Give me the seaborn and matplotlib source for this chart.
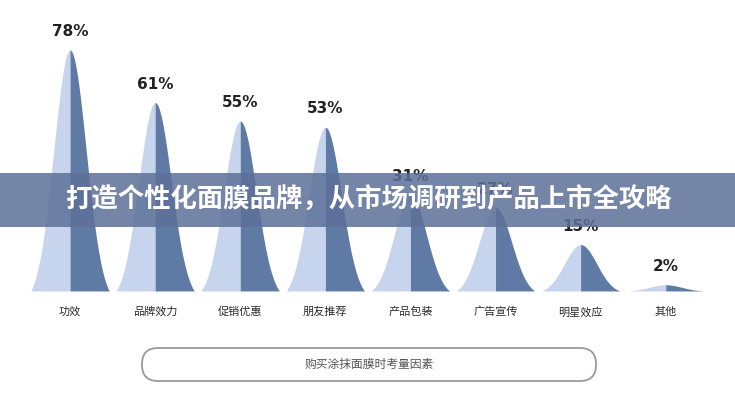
import numpy as np
import pandas as pd
import matplotlib.pyplot as plt
import seaborn as sns
from matplotlib.patches import FancyBboxPatch, Rectangle

# data
categories = ["功效", "品牌效力", "促销优惠", "朋友推荐", "产品包装", "广告宣传", "明星效应", "其他"]
percents = [78, 61, 55, 53, 31, 27, 15, 2]
title = "打造个性化面膜品牌，从市场调研到产品上市全攻略"
caption = "购买涂抹面膜时考量因素"

LIGHT = "#c6d4ee"
DARK = "#607aa6"

sns.set_theme(style="white")
plt.rcParams["font.family"] = ["Noto Sans CJK SC", "DejaVu Sans"]

fig = plt.figure(figsize=(7.35, 4), dpi=100)
fig.patch.set_facecolor("white")
ax = fig.add_axes([0, 0, 1, 1])
ax.set_xlim(-0.8226, 7.814)
ax.set_ylim(-35.3, 94.2)
ax.axis("off")

# bell shaped peaks, light left half / dark right half
half = np.linspace(0, 0.46, 150)
bell = np.exp(-0.5 * (half / 0.19) ** 2)
edge = bell[-1]
bell = (bell - edge) / (1 - edge)
for i, v in enumerate(percents):
    curve = v * bell
    left = pd.DataFrame({"x": i - half, "y": curve})
    right = pd.DataFrame({"x": i + half, "y": curve})
    ax.fill_between(left["x"], 0, left["y"], color=LIGHT, lw=0)
    ax.fill_between(right["x"], 0, right["y"], color=DARK, lw=0)
    ax.text(i, v + 6, f"{v}%", ha="center", va="center", fontsize=11,
            fontweight="bold", color="#222222", family="DejaVu Sans")
    ax.text(i, -6.8, categories[i], ha="center", va="center", fontsize=8,
            fontweight="medium", color="#2b2b2b")

# overlay in pixel units for banner and caption box
deco = fig.add_axes([0, 0, 1, 1])
deco.set_xlim(0, 735)
deco.set_ylim(400, 0)
deco.axis("off")
deco.patch.set_alpha(0)

deco.add_patch(Rectangle((0, 173), 735, 54, color="#5d7099", alpha=0.85, lw=0))
deco.text(368, 200, title, ha="center", va="center", fontsize=19,
          fontweight="heavy", color="white")

deco.add_patch(FancyBboxPatch((142, 348), 454, 33,
                              boxstyle="round,pad=0,rounding_size=16",
                              fc="white", ec="#9a9a9a", lw=1.3))
deco.text(369, 364, caption, ha="center", va="center", fontsize=8.5,
          color="#555555")

fig.savefig("out.png", dpi=100)
